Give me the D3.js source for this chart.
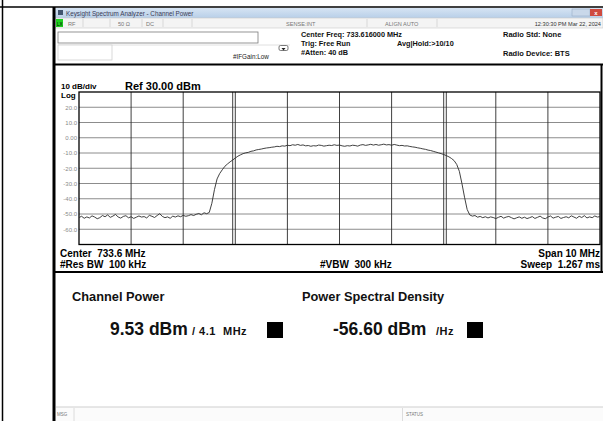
<!DOCTYPE html>
<html>
<head>
<meta charset="utf-8">
<script src="https://cdn.jsdelivr.net/npm/d3@7"></script>
<style>
  html, body { margin: 0; padding: 0; background: #fff; }
  svg { display: block; font-family: "Liberation Sans", Arial, sans-serif; }
  text { white-space: pre; }
</style>
</head>
<body>
<svg id="chart" width="603" height="421"></svg>
<script>
// ---------------- DATA ----------------
const centerFreqMHz = 733.616;
const spanMHz = 10;
const refLevel = 30;          // dBm (top of screen)
const dbPerDiv = 10;
const numDivs = 10;
const yTickValues = [20, 10, 0, -10, -20, -30, -40, -50, -60];
const yTickLabels = ["20.0", "10.0", "0.00", "-10.0", "-20.0", "-30.0", "-40.0", "-50.0", "-60.0"];
const channelBWMHz = 4.1;
// trace amplitude (dBm), 201 sweep points evenly spaced across the span
const traceDbm = [
  -52.3, -51.5, -52.8, -51.9, -52.6, -51.2, -52.0, -53.1, -52.4, -51.0,
  -51.8, -50.6, -52.2, -51.4, -50.3, -51.9, -52.7, -51.6, -51.1, -52.5,
  -51.8, -52.9, -52.1, -51.3, -52.0, -51.7, -52.6, -50.9, -51.5, -52.3,
  -51.0, -49.8, -51.6, -52.4, -51.9, -52.8, -51.4, -52.0, -51.2, -51.8,
  -50.9, -51.5, -51.1, -50.4, -51.0, -50.2, -49.7, -50.5, -49.2, -49.8,
  -49.0, -43.0, -34.0, -27.0, -23.5, -21.0, -18.7, -17.2, -15.8, -14.6,
  -13.3, -12.1, -11.2, -10.4, -9.9, -9.6, -8.9, -8.6, -8.0, -7.7,
  -7.4, -7.0, -6.7, -6.5, -6.2, -6.0, -5.6, -5.8, -5.3, -5.5,
  -4.9, -5.2, -4.6, -4.9, -4.4, -5.0, -4.7, -5.3, -5.1, -5.6,
  -5.2, -5.4, -4.8, -5.0, -5.5, -5.2, -4.9, -5.1, -4.6, -5.0,
  -4.8, -5.3, -5.6, -5.2, -5.4, -4.9, -5.1, -5.5, -4.8, -4.5,
  -5.0, -4.7, -4.3, -4.8, -4.4, -4.9, -4.6, -4.2, -4.7, -4.5,
  -4.9, -4.4, -4.8, -5.2, -5.0, -5.4, -5.3, -5.7, -6.0, -6.2,
  -6.6, -6.9, -7.3, -7.6, -8.1, -8.4, -8.9, -9.4, -9.9, -10.4,
  -11.0, -11.7, -12.5, -13.6, -15.0, -17.5, -22.0, -30.0, -39.0, -47.0,
  -50.6, -51.4, -51.0, -52.1, -51.6, -52.4, -51.8, -52.6, -51.9, -52.3,
  -53.0, -52.2, -51.5, -52.7, -52.0, -51.6, -52.4, -53.2, -52.5, -51.9,
  -52.8, -52.1, -53.0, -52.4, -51.7, -52.9, -52.2, -51.4, -52.6, -53.1,
  -52.0, -51.3, -52.7, -52.1, -51.6, -52.9, -52.3, -51.8, -52.5, -51.2,
  -52.0, -52.8, -51.5, -52.3, -51.1, -52.6, -51.9, -52.4, -51.3, -52.0,
  -51.7
];
const headerLeft = ["Center Freq: 733.616000 MHz", "Trig: Free Run", "#Atten: 40 dB"];
const headerRight = ["Radio Std: None", "Radio Device: BTS"];
const footerLeft = ["Center  733.6 MHz", "#Res BW  100 kHz"];
const footerMid = "#VBW  300 kHz";
const footerRight = ["Span 10 MHz", "Sweep  1.267 ms"];
const resultTitles = ["Channel Power", "Power Spectral Density"];
const resultValues = ["9.53 dBm", "-56.60 dBm"];
const resultUnits = ["/ 4.1  MHz", "/Hz"];

// ---------------- DRAW ----------------
const svg = d3.select("#chart");

// outer document frame
svg.append("line").attr("x1", 2.5).attr("x2", 2.5).attr("y1", 0).attr("y2", 421).attr("stroke", "#000").attr("stroke-width", 1.5);
svg.append("line").attr("x1", 0).attr("x2", 603).attr("y1", 7).attr("y2", 7).attr("stroke", "#000").attr("stroke-width", 1.5);

// title bar
const defs = svg.append("defs");
const g1 = defs.append("linearGradient").attr("id", "tb").attr("x1", 0).attr("x2", 0).attr("y1", 0).attr("y2", 1);
g1.append("stop").attr("offset", "0%").attr("stop-color", "#d6e4f3");
g1.append("stop").attr("offset", "100%").attr("stop-color", "#b8cfe8");
svg.append("rect").attr("x", 55).attr("y", 8).attr("width", 548).attr("height", 10).attr("fill", "url(#tb)");
svg.append("rect").attr("x", 58).attr("y", 10).attr("width", 5).attr("height", 5).attr("fill", "#41546e");
svg.append("text").attr("x", 66).attr("y", 15.5).attr("font-size", 6.3).attr("fill", "#3a3a55").text("Keysight Spectrum Analyzer - Channel Power");
svg.append("rect").attr("x", 572).attr("y", 9).attr("width", 18).attr("height", 7).attr("fill", "#c9d8ea").attr("stroke", "#8fa5c0").attr("stroke-width", 0.5);
svg.append("rect").attr("x", 590).attr("y", 9).attr("width", 12).attr("height", 7).attr("fill", "#cf4a3e");
svg.append("text").attr("x", 596).attr("y", 15).attr("font-size", 6).attr("text-anchor", "middle").attr("fill", "#fff").attr("font-weight", "bold").text("x");

// status row
svg.append("rect").attr("x", 55).attr("y", 18).attr("width", 548).attr("height", 10).attr("fill", "#f4f4f4").attr("stroke", "#c8c8c8").attr("stroke-width", 0.6);
svg.append("rect").attr("x", 56).attr("y", 19).attr("width", 7).attr("height", 8).attr("fill", "#1fd01f");
svg.append("text").attr("x", 57).attr("y", 25.5).attr("font-size", 4.5).attr("fill", "#000").text("LX");
const statusSeps = [83, 110, 142, 163, 192, 367, 437];
statusSeps.forEach(x => svg.append("line").attr("x1", x).attr("x2", x).attr("y1", 19).attr("y2", 27).attr("stroke", "#c8c8c8").attr("stroke-width", 0.6));
const statusTexts = [[68, "RF", "start"], [118, "50 Ω", "start"], [146, "DC", "start"], [286, "SENSE:INT", "start"], [385, "ALIGN AUTO", "start"], [601, "12:30:30 PM Mar 22, 2024", "end"]];
statusTexts.forEach(([x, t, a]) => svg.append("text").attr("x", x).attr("y", 25.5).attr("font-size", 5.6).attr("text-anchor", a).attr("fill", a === "end" ? "#333" : "#777").text(t));

// info area
svg.append("rect").attr("x", 58).attr("y", 32).attr("width", 200).attr("height", 11).attr("fill", "#fff").attr("stroke", "#7a7a7a").attr("stroke-width", 0.8);
svg.append("line").attr("x1", 58).attr("x2", 290).attr("y1", 45).attr("y2", 45).attr("stroke", "#d8d8d8").attr("stroke-width", 0.8);
svg.append("rect").attr("x", 58).attr("y", 45).attr("width", 54).attr("height", 15).attr("fill", "#fff").attr("stroke", "#d0d0d0").attr("stroke-width", 0.8);
svg.append("text").attr("x", 233).attr("y", 59).attr("font-size", 6.3).attr("fill", "#222").text("#IFGain:Low");
svg.append("rect").attr("x", 279).attr("y", 45.5).attr("width", 9).attr("height", 5).attr("rx", 1.5).attr("fill", "#fff").attr("stroke", "#444").attr("stroke-width", 0.7);
svg.append("path").attr("d", "M281.5,48 L285.5,48 L283.5,50.5 Z").attr("fill", "#222");

headerLeft.forEach((t, i) => svg.append("text").attr("x", 301).attr("y", 36.5 + i * 9).attr("font-size", 7.3).attr("font-weight", "bold").attr("fill", "#111").text(t));
svg.append("text").attr("x", 397).attr("y", 45.5).attr("font-size", 7.3).attr("font-weight", "bold").attr("fill", "#111").text("Avg|Hold:>10/10");
svg.append("text").attr("x", 503).attr("y", 36.5).attr("font-size", 7.5).attr("font-weight", "bold").attr("fill", "#111").text(headerRight[0]);
svg.append("text").attr("x", 503).attr("y", 55.5).attr("font-size", 7.5).attr("font-weight", "bold").attr("fill", "#111").text(headerRight[1]);

// graph panel frame
svg.append("line").attr("x1", 54).attr("x2", 54).attr("y1", 7).attr("y2", 421).attr("stroke", "#000").attr("stroke-width", 3);
svg.append("line").attr("x1", 55).attr("x2", 603).attr("y1", 64.5).attr("y2", 64.5).attr("stroke", "#000").attr("stroke-width", 2);
svg.append("line").attr("x1", 601.5).attr("x2", 601.5).attr("y1", 64).attr("y2", 272).attr("stroke", "#000").attr("stroke-width", 2);
svg.append("line").attr("x1", 55).attr("x2", 603).attr("y1", 272).attr("y2", 272).attr("stroke", "#000").attr("stroke-width", 2.2);

svg.append("text").attr("x", 61).attr("y", 89).attr("font-size", 8).attr("font-weight", "bold").text("10 dB/div");
svg.append("text").attr("x", 125).attr("y", 89.5).attr("font-size", 11).attr("font-weight", "bold").text("Ref 30.00 dBm");
svg.append("text").attr("x", 61).attr("y", 98).attr("font-size", 8).attr("font-weight", "bold").text("Log");

// scales
const plot = { left: 79, right: 600, top: 92, bottom: 244.5 };
const x = d3.scaleLinear().domain([centerFreqMHz - spanMHz / 2, centerFreqMHz + spanMHz / 2]).range([plot.left, plot.right]);
const y = d3.scaleLinear().domain([refLevel - dbPerDiv * numDivs, refLevel]).range([plot.bottom, plot.top]);

// horizontal grid (gray)
const gy = svg.append("g");
gy.selectAll("line").data(yTickValues).join("line")
  .attr("x1", plot.left).attr("x2", plot.right)
  .attr("y1", d => y(d)).attr("y2", d => y(d))
  .attr("stroke", "#8c8c8c").attr("stroke-width", 1);

// vertical grid (dark)
const xGrid = d3.range(1, numDivs).map(k => x.domain()[0] + k * spanMHz / numDivs);
svg.append("g").selectAll("line").data(xGrid).join("line")
  .attr("x1", d => x(d)).attr("x2", d => x(d))
  .attr("y1", plot.top).attr("y2", plot.bottom)
  .attr("stroke", "#2a2a2a").attr("stroke-width", 0.9);

// channel integration bandwidth markers
const chEdges = [centerFreqMHz - channelBWMHz / 2, centerFreqMHz + channelBWMHz / 2];
svg.append("g").selectAll("line").data(chEdges).join("line")
  .attr("x1", d => x(d)).attr("x2", d => x(d))
  .attr("y1", plot.top).attr("y2", plot.bottom)
  .attr("stroke", "#2a2a2a").attr("stroke-width", 0.9);

// y axis labels
const yAxis = d3.axisLeft(y).tickValues(yTickValues).tickSize(0).tickPadding(2)
  .tickFormat((d, i) => yTickLabels[i]);
const ya = svg.append("g").attr("transform", `translate(${plot.left},0)`).call(yAxis);
ya.select(".domain").remove();
ya.selectAll("text").attr("font-size", 6).attr("fill", "#8a8a8a").attr("font-family", "Liberation Sans, Arial, sans-serif");

// plot border
svg.append("rect").attr("x", plot.left).attr("y", plot.top).attr("width", plot.right - plot.left).attr("height", plot.bottom - plot.top)
  .attr("fill", "none").attr("stroke", "#000").attr("stroke-width", 1.3);

// trace
const step = spanMHz / (traceDbm.length - 1);
const line = d3.line().x((d, i) => x(x.domain()[0] + i * step)).y(d => y(d));
svg.append("path").datum(traceDbm).attr("d", line).attr("fill", "none").attr("stroke", "#2b2b2b").attr("stroke-width", 0.9);

// footer annotations
footerLeft.forEach((t, i) => svg.append("text").attr("x", 60).attr("y", 257 + i * 10.5).attr("font-size", 10).attr("font-weight", "bold").text(t));
svg.append("text").attr("x", 320).attr("y", 267.5).attr("font-size", 10).attr("font-weight", "bold").text(footerMid);
footerRight.forEach((t, i) => svg.append("text").attr("x", 600).attr("y", 257 + i * 10.5).attr("text-anchor", "end").attr("font-size", 10).attr("font-weight", "bold").text(t));

// results panel
const titleX = [72, 302];
const valueX = [110, 333];
const unitX = [192, 436];
const sqX = [267, 467];
resultTitles.forEach((t, i) => {
  svg.append("text").attr("x", titleX[i]).attr("y", 301).attr("font-size", 12.8).attr("font-weight", "bold").attr("fill", "#111").text(t);
  svg.append("text").attr("x", valueX[i]).attr("y", 335).attr("font-size", 17.5).attr("font-weight", "bold").attr("fill", "#111").text(resultValues[i]);
  svg.append("text").attr("x", unitX[i]).attr("y", 335).attr("font-size", 11).attr("letter-spacing", 0.5).attr("font-weight", "bold").attr("fill", "#111").text(resultUnits[i]);
  svg.append("rect").attr("x", sqX[i]).attr("y", 322).attr("width", 16).attr("height", 16).attr("fill", "#000");
});

// bottom status bar
svg.append("rect").attr("x", 56).attr("y", 407).attr("width", 547).attr("height", 14).attr("fill", "#fbfbfb");
svg.append("line").attr("x1", 56).attr("x2", 603).attr("y1", 407).attr("y2", 407).attr("stroke", "#cfcfcf").attr("stroke-width", 1);
svg.append("line").attr("x1", 74).attr("x2", 74).attr("y1", 408).attr("y2", 421).attr("stroke", "#d6d6d6").attr("stroke-width", 0.8);
svg.append("line").attr("x1", 402.5).attr("x2", 402.5).attr("y1", 408).attr("y2", 421).attr("stroke", "#d6d6d6").attr("stroke-width", 0.8);
svg.append("text").attr("x", 57).attr("y", 416).attr("font-size", 4.5).attr("fill", "#777").text("MSG");
svg.append("text").attr("x", 406).attr("y", 416).attr("font-size", 4.5).attr("fill", "#777").text("STATUS");
</script>
</body>
</html>
